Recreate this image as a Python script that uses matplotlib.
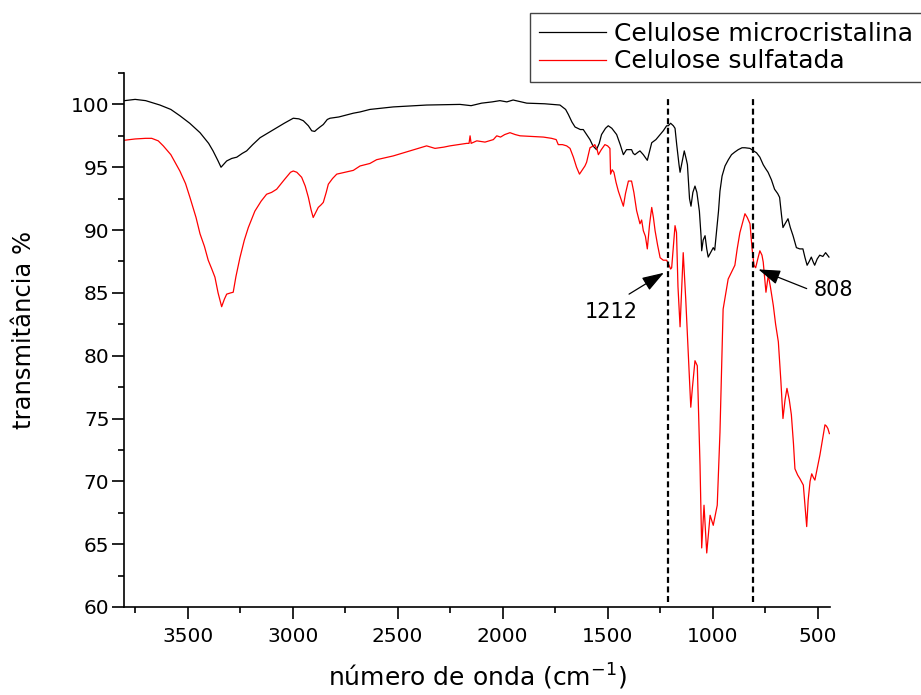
import matplotlib
matplotlib.use("Agg")
import matplotlib.pyplot as plt
from matplotlib.ticker import MultipleLocator

plt.rcParams['font.family'] = ['DejaVu Sans']
plt.rcParams['mathtext.fontset'] = 'dejavusans'

# ---- data: wavenumber (cm-1) and transmittance (%) ----
mcc_wn = [3800, 3750, 3700, 3632, 3580, 3537, 3490, 3441, 3400, 3379, 3355, 3341, 3330, 3314,
          3290, 3266, 3240, 3219, 3190, 3155, 3120, 3076, 3040, 2997, 2970, 2949, 2925, 2909,
          2895, 2885, 2870, 2854, 2835, 2822, 2780, 2711, 2679, 2632, 2521, 2362, 2203, 2150,
          2100, 2050, 2013, 1980, 1950, 1885, 1800, 1727, 1700, 1687, 1670, 1655, 1630, 1616,
          1600, 1584, 1570, 1553, 1540, 1529, 1510, 1497, 1480, 1457, 1440, 1425, 1410, 1401,
          1386, 1378, 1370, 1355, 1346, 1330, 1311, 1300, 1290, 1270, 1250, 1235, 1219, 1211,
          1200, 1187, 1179, 1171, 1160, 1155, 1143, 1135, 1125, 1120, 1110, 1103, 1094, 1084,
          1075, 1063, 1055, 1052, 1045, 1036, 1028, 1021, 1010, 997, 990, 981, 972, 965, 955,
          941, 925, 910, 895, 878, 860, 846, 822, 805, 791, 775, 759, 748, 736, 720, 705, 690,
          681, 672, 665, 655, 641, 630, 617, 608, 601, 585, 570, 560, 550, 540, 530, 522, 514,
          502, 490, 475, 462, 446]
mcc_t = [100.3, 100.4, 100.3, 99.95, 99.6, 99.1, 98.5, 97.75, 96.9, 96.3, 95.5, 95.0, 95.2, 95.5,
         95.7, 95.8, 96.1, 96.3, 96.8, 97.35, 97.7, 98.15, 98.5, 98.9, 98.85, 98.7, 98.3, 97.9,
         97.85, 98.0, 98.2, 98.4, 98.8, 98.9, 99.0, 99.3, 99.4, 99.6, 99.8, 99.95, 100.0, 99.9,
         100.1, 100.2, 100.3, 100.2, 100.35, 100.1, 100.05, 99.95, 99.6, 99.2, 98.6, 98.2, 98.0, 98.0,
         97.6, 97.2, 96.7, 96.4, 96.9, 97.6, 98.1, 98.3, 98.1, 97.6, 96.8, 96.0, 96.4, 96.4,
         96.4, 96.1, 96.0, 96.2, 96.3, 96.0, 95.55, 96.3, 96.95, 97.2, 97.6, 97.9, 98.3, 98.3,
         98.5, 98.3, 98.1, 96.8, 95.2, 94.6, 95.6, 96.3, 95.6, 95.2, 92.5, 91.9, 93.0, 93.5,
         93.0, 91.5, 89.5, 88.35, 89.2, 89.55, 88.5, 87.85, 88.2, 88.6, 88.4, 89.95, 91.5, 93.1, 94.3,
         95.1, 95.6, 96.0, 96.2, 96.4, 96.55, 96.55, 96.5, 96.3, 96.15, 95.8, 95.2, 94.9, 94.6, 94.0, 93.25, 92.9,
         92.6, 91.2, 90.2, 90.5, 90.9, 90.2, 89.55, 89.0, 88.6, 88.5, 88.5, 87.8, 87.2, 87.5, 87.85, 87.5, 87.2,
         87.7, 88.0, 87.9, 88.2, 87.85]

sulf_wn = [3800, 3750, 3700, 3671, 3640, 3616, 3580, 3537, 3510, 3489, 3460, 3441, 3420, 3402,
           3385, 3370, 3355, 3338, 3325, 3314, 3295, 3283, 3270, 3251, 3230, 3211, 3180, 3150,
           3124, 3100, 3076, 3040, 3010, 2997, 2980, 2957, 2940, 2925, 2912, 2902, 2890, 2878,
           2865, 2854, 2840, 2830, 2810, 2790, 2750, 2711, 2679, 2632, 2600, 2521, 2441, 2362,
           2322, 2280, 2251, 2171, 2160, 2155, 2150, 2123, 2084, 2044, 2028, 2010, 1990, 1965,
           1940, 1917, 1860, 1806, 1767, 1745, 1735, 1715, 1695, 1679, 1663, 1648, 1634, 1620,
           1608, 1600, 1584, 1568, 1561, 1550, 1544, 1530, 1513, 1500, 1489, 1486, 1478, 1470,
           1460, 1449, 1437, 1425, 1415, 1401, 1386, 1375, 1362, 1346, 1338, 1330, 1320, 1311,
           1300, 1290, 1282, 1274, 1262, 1250, 1235, 1219, 1210, 1200, 1195, 1188, 1179, 1172,
           1165, 1155, 1147, 1140, 1128, 1115, 1104, 1096, 1084, 1073, 1060, 1052, 1041, 1028,
           1012, 997, 978, 965, 950, 926, 894, 883, 870, 846, 835, 822, 812, 803, 795, 785,
           775, 765, 759, 746, 735, 725, 711, 700, 687, 675, 665, 655, 646, 635, 625, 615,
           608, 595, 584, 568, 560, 552, 545, 536, 528, 520, 513, 500, 489, 475, 465, 458,
           451, 444]
sulf_t = [97.15, 97.25, 97.3, 97.3, 97.1, 96.7, 96.0, 94.7, 93.7, 92.6, 91.0, 89.7, 88.7, 87.6,
          86.9, 86.25, 85.0, 83.9, 84.5, 84.9, 85.0, 85.05, 86.3, 87.8, 89.2, 90.2, 91.5, 92.3,
          92.85, 93.0, 93.25, 94.0, 94.6, 94.7, 94.6, 94.2, 93.5, 92.6, 91.6, 91.0, 91.4, 91.8,
          92.0, 92.2, 93.0, 93.65, 94.1, 94.45, 94.6, 94.75, 95.1, 95.3, 95.6, 95.9, 96.3, 96.7,
          96.5, 96.6, 96.7, 96.9, 96.9, 97.5, 96.9, 97.1, 97.0, 97.2, 97.5, 97.4, 97.6, 97.75,
          97.6, 97.5, 97.45, 97.4, 97.3, 97.2, 96.8, 96.8, 96.7, 96.5, 95.8, 95.0, 94.45, 94.8,
          95.1, 95.4, 96.55, 96.7, 96.8, 96.4, 96.0, 96.4, 96.8, 96.7, 96.5, 94.45, 94.8, 94.6,
          93.8, 93.1, 92.5, 91.9, 92.9, 93.9, 93.9, 93.0, 91.55, 90.5, 90.8, 89.95, 89.5, 88.5,
          90.5, 91.8, 91.0, 89.95, 88.8, 87.8, 87.6, 87.6, 87.3, 86.9, 87.0, 88.5, 90.35, 89.8,
          85.5, 82.3, 85.5, 88.2, 84.5, 79.8, 75.9, 77.5, 79.6, 79.2, 71.3, 64.7, 68.1, 64.3,
          67.3, 66.5, 68.1, 73.9, 83.7, 86.1, 87.2, 88.5, 89.8, 91.3, 91.0, 90.5, 88.5, 87.2, 87.0, 87.7,
          88.35, 88.0, 87.45, 85.05, 86.4, 85.5, 84.0, 82.5, 81.1, 78.0, 75.0, 76.5, 77.4, 76.5, 75.3, 73.0,
          71.0, 70.5, 70.2, 69.7, 68.0, 66.4, 68.5, 70.0, 70.6, 70.3, 70.1, 71.2, 72.1, 73.5, 74.5, 74.4,
          74.2, 73.8]

labels = ['Celulose microcristalina', 'Celulose sulfatada']
marked_bands = [1212, 808]
x_ticks = [3500, 3000, 2500, 2000, 1500, 1000, 500]
y_ticks = [60, 65, 70, 75, 80, 85, 90, 95, 100]

# ---- figure ----
fig = plt.figure(figsize=(9.21, 6.95), dpi=100)
ax = fig.add_axes([0.13464, 0.12662, 0.76656, 0.76835])

l1, = ax.plot(mcc_wn, mcc_t, color='black', lw=0.9, label=labels[0])
l2, = ax.plot(sulf_wn, sulf_t, color='#ff0000', lw=0.9, label=labels[1])

for b in marked_bands:
    ax.plot([b, b], [60.4, 100.7], color='black', lw=1.6, ls=(0, (2.7, 1.6)))

ax.set_xlim(3803, 441)
ax.set_ylim(60, 102.5)
ax.set_xticks(x_ticks)
ax.set_yticks(y_ticks)
ax.xaxis.set_minor_locator(MultipleLocator(250))
ax.yaxis.set_minor_locator(MultipleLocator(2.5))

for s in ['top', 'right']:
    ax.spines[s].set_visible(False)
for s in ['left', 'bottom']:
    ax.spines[s].set_linewidth(1.2)

ax.tick_params(which='major', direction='out', length=8.5, width=1.2, labelsize=14.5)
ax.tick_params(which='minor', direction='out', length=4.5, width=1.2)
ax.tick_params(axis='x', which='major', pad=6)
ax.tick_params(axis='y', which='major', pad=2)

ax.set_xlabel('número de onda (cm$^{-1}$)', fontsize=18)
ax.set_ylabel('transmitância %', fontsize=17.5)
ax.xaxis.set_label_coords(0.5, -0.103)
ax.yaxis.set_label_coords(-0.125, 0.519)

# annotations
ax.annotate('', xy=(1232, 86.6), xytext=(1398, 84.9),
            arrowprops=dict(arrowstyle='-|>,head_length=0.9,head_width=0.3',
                            color='black', lw=0.9, mutation_scale=15,
                            shrinkA=0, shrinkB=0))
ax.text(1485, 83.45, '1212', ha='center', va='center', fontsize=15)
ax.annotate('', xy=(782, 86.87), xytext=(552, 85.34),
            arrowprops=dict(arrowstyle='-|>,head_length=0.9,head_width=0.3',
                            color='black', lw=0.9, mutation_scale=15,
                            shrinkA=0, shrinkB=0), annotation_clip=False)
ax.text(425, 85.2, '808', ha='center', va='center', fontsize=15, clip_on=False)

leg = fig.legend(handles=[l1, l2], labels=labels, loc='upper left',
                 bbox_to_anchor=(530 / 921, 1 - 13 / 695), bbox_transform=fig.transFigure,
                 frameon=True, fancybox=False, edgecolor='#444444', framealpha=1,
                 borderaxespad=0, borderpad=0.35, handlelength=2.7, handletextpad=0.3,
                 labelspacing=0.15, fontsize=18)
leg.get_frame().set_linewidth(1.0)

fig.savefig('out.png', dpi=100)
